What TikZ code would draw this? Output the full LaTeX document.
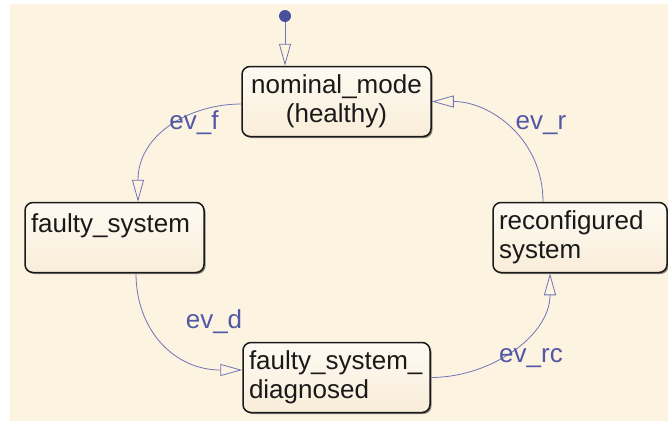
\documentclass[tikz,border=0pt]{standalone}
\usepackage{fontspec}
\setmainfont{Liberation Sans}
\usetikzlibrary{arrows.meta,shadows}
\definecolor{bgc}{HTML}{FDF3E1}
\definecolor{topc}{HTML}{FEFAF2}
\definecolor{botc}{HTML}{F9EDD9}
\definecolor{linec}{HTML}{7074B8}
\definecolor{labc}{HTML}{5257A6}
\definecolor{dotc}{HTML}{4A4F9E}
\begin{document}
\begin{tikzpicture}[x=1pt,y=-1pt,
  state/.style={draw=black!90, line width=1.5pt, rounded corners=8pt,
    top color=topc, bottom color=botc, minimum height=70pt,
    inner xsep=6pt, inner ysep=0pt, font=\fontsize{26}{29}\selectfont,
    text=black!90,
    drop shadow={shadow xshift=1.5pt, shadow yshift=-1.5pt, opacity=0.45, fill=black}},
  trans/.style={draw=linec, line width=0.8pt, -{Triangle[open, length=22pt, width=12pt]}},
  lbl/.style={text=labc, font=\fontsize{26}{29}\selectfont, anchor=base, inner sep=0pt}]

\useasboundingbox (0,0) rectangle (668,421);
\fill[bgc] (10,4) rectangle (668,421);

\node[state, minimum width=189pt, text width=177pt, align=center] (nom) at (336.5,101.5) {nominal\_mode\\(healthy)};
\node[state, minimum width=179pt, text width=167pt, align=left] (fs) at (114.5,237.5) {faulty\_system\\\mbox{}};
\node[state, minimum width=187pt, text width=175pt, align=left] (diag) at (336.5,377.5) {faulty\_system\_\\diagnosed};
\node[state, minimum width=174pt, text width=162pt, align=left] (rec) at (580,237.5) {reconfigured\\system};

\node[circle, fill=dotc, minimum size=12pt, inner sep=0pt] (init) at (285,16) {};
\draw[trans] (init) -- ([xshift=-51.5pt]nom.north);

\draw[trans] ([yshift=-2.5pt]nom.west) .. controls +(-52,0) and +(0,-67) .. ([xshift=23.5pt]fs.north);
\draw[trans] ([xshift=21.5pt]fs.south) .. controls +(0,57) and +(-68,0) .. ([yshift=7.5pt]diag.west);
\draw[trans] (diag.east) .. controls +(60,0) and +(0,62.5) .. ([xshift=-30pt]rec.south);
\draw[trans] ([xshift=-37pt]rec.north) .. controls +(0,-62.5) and +(59,0) .. (nom.east);

\node[lbl] (lf) at (194,129) {ev\_f};
\node[lbl] (lr) at (541,129) {ev\_r};
\node[lbl] (ld) at (214,328) {ev\_d};
\node[lbl] (lrc) at (531,362) {ev\_rc};
\end{tikzpicture}
\end{document}
